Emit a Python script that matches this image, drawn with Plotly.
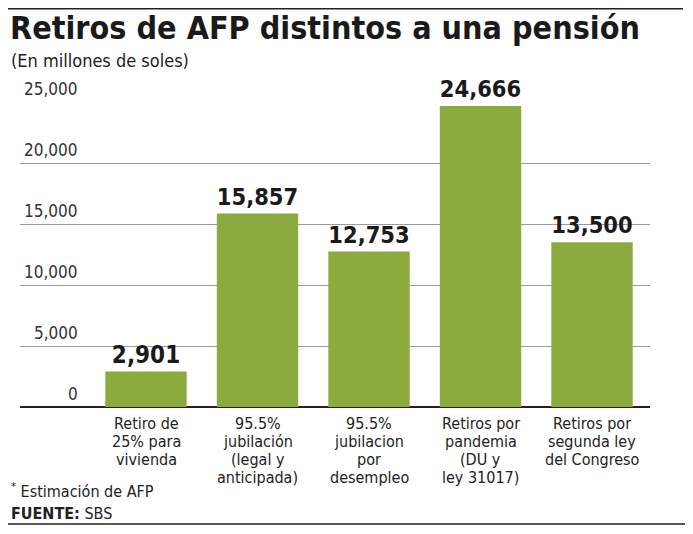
import plotly.graph_objects as go

categories = ["Retiro de<br>25% para<br>vivienda",
              "95.5%<br>jubilación<br>(legal y<br>anticipada)",
              "95.5%<br>jubilacion<br>por<br>desempleo",
              "Retiros por<br>pandemia<br>(DU y<br>ley 31017)",
              "Retiros por<br>segunda ley<br>del Congreso"]
values = [2901, 15857, 12753, 24666, 13500]
value_labels = ["2,901", "15,857", "12,753", "24,666", "13,500"]
y_ticks = [0, 5000, 10000, 15000, 20000, 25000]
y_tick_labels = ["0", "5,000", "10,000", "15,000", "20,000", "25,000"]

# The page body adds an 8px margin, so the figure is drawn 8px smaller
# and all positions below are given in screen pixels minus that offset.
OFF = 8
W, H = 693 - OFF, 534 - OFF
PLOT_L, PLOT_R, PLOT_T, PLOT_B = 20, 650, 102, 407   # screen pixels
L, R = PLOT_L - OFF, W - (PLOT_R - OFF)
T, B = PLOT_T - OFF, H - (PLOT_B - OFF)
FONT = "DejaVu Sans Condensed, Liberation Sans Narrow, sans-serif"
GREEN = "#8bab3f"


def px(x):
    return (x - OFF - L) / (W - L - R)


def py(y):
    return (H - B - (y - OFF)) / (H - T - B)


xs = list(range(len(categories)))
fig = go.Figure()
fig.add_trace(go.Bar(x=xs, y=values, marker=dict(color=GREEN, line=dict(width=0)),
                     width=0.73, text=["<b>%s</b>" % t for t in value_labels],
                     textposition="outside",
                     textfont=dict(family=FONT, size=24, color="#1a1a1a"),
                     cliponaxis=False, hoverinfo="skip"))

annotations = []
for v, t in zip(y_ticks, y_tick_labels):
    annotations.append(dict(x=px(80), xref="paper", y=v, yref="y",
                            text=t, showarrow=False, xanchor="right", yanchor="bottom",
                            yshift=1, font=dict(family=FONT, size=17, color="#333")))
for i, c in enumerate(categories):
    for j, line in enumerate(c.split("<br>")):
        annotations.append(dict(x=i, xref="x", y=0, yref="y", text=line, showarrow=False,
                                xanchor="center", yanchor="middle",
                                yshift=-(423 - PLOT_B) - 18 * j,
                                font=dict(family=FONT, size=16, color="#222")))
annotations += [
    dict(x=px(8), xref="paper", y=py(28), yref="paper", xanchor="left", yanchor="middle",
         text="<b>Retiros de AFP distintos a una pensión</b>", showarrow=False,
         font=dict(family=FONT, size=32, color="#1a1a1a")),
    dict(x=px(9), xref="paper", y=py(61), yref="paper", xanchor="left", yanchor="middle",
         text="(En millones de soles)", showarrow=False,
         font=dict(family=FONT, size=18, color="#222")),
    dict(x=px(9), xref="paper", y=py(490), yref="paper", xanchor="left", yanchor="middle",
         text="<sup>*</sup> Estimación de AFP", showarrow=False,
         font=dict(family=FONT, size=16, color="#222")),
    dict(x=px(9), xref="paper", y=py(513), yref="paper", xanchor="left", yanchor="middle",
         text="<b>FUENTE:</b> SBS", showarrow=False,
         font=dict(family=FONT, size=16, color="#222")),
]

shapes = [
    dict(type="line", xref="paper", yref="paper", x0=px(OFF), x1=px(683),
         y0=py(OFF + 0.8), y1=py(OFF + 0.8), line=dict(color="#222", width=1.5)),
    dict(type="line", xref="paper", yref="paper", x0=px(OFF), x1=px(685),
         y0=py(524), y1=py(524), line=dict(color="#222", width=1.5)),
]

fig.update_layout(
    width=W, height=H, margin=dict(l=L, r=R, t=T, b=B),
    paper_bgcolor="white", plot_bgcolor="white", showlegend=False,
    xaxis=dict(range=[-1.13, 4.52], showticklabels=False, showgrid=False, zeroline=False,
               fixedrange=True),
    yaxis=dict(range=[0, 25000], tickvals=y_ticks, showticklabels=False, showgrid=True,
               gridcolor="#9a9a9a", gridwidth=1, zeroline=True, zerolinecolor="#222",
               zerolinewidth=1.5, fixedrange=True),
    annotations=annotations, shapes=shapes,
)
fig.write_html("out.html")
